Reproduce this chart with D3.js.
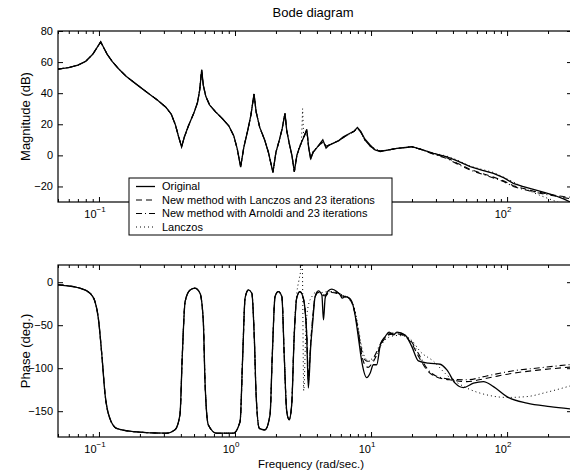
<!DOCTYPE html>
<html>
<head>
<meta charset="utf-8">
<script src="https://cdn.jsdelivr.net/npm/d3@7"></script>
<style>
  body { margin: 0; background: #fff; }
  text { font-family: "Liberation Sans", Arial, Helvetica, sans-serif; fill: #000; }
</style>
</head>
<body>
<div id="chart"></div>
<script>
// ---- data: [frequency (rad/s), value] ----

// magnitude (dB), common low-frequency part of all four curves
const magShared = [
  [0.05,55.5],[0.06,56.5],[0.07,58],[0.08,60.5],[0.09,65],[0.097,69.5],[0.103,73],[0.108,69.5],
  [0.115,65],[0.125,60.5],[0.14,55.5],[0.16,50.5],[0.19,45.5],[0.23,40],[0.27,35.5],[0.31,31],
  [0.34,26.5],[0.365,19.5],[0.385,12],[0.405,5.5],[0.425,12],[0.455,19],[0.5,27.5],[0.53,34],
  [0.55,42],[0.569,55],[0.585,45],[0.61,38],[0.65,32.5],[0.72,28],[0.8,24],[0.9,19],[0.98,12.5],
  [1.04,4],[1.1,-7.5],[1.16,5],[1.24,16],[1.31,26],[1.38,39.5],[1.43,28],[1.52,18],[1.65,10],
  [1.76,2],[1.9,-11],[2.0,2],[2.12,10],[2.22,17],[2.33,27],[2.4,16],[2.5,8],[2.62,0],[2.73,-10.5],[2.85,0]
];
const magOriginalTail = [
  [2.95,4],[3.1,9],[3.25,13],[3.37,16.8],[3.48,5],[3.6,-2.5],[3.75,2],[4.0,5],[4.25,8],[4.42,10],
  [4.67,4.7],[4.9,6.5],[5.28,7.8],[5.8,9.5],[6.26,12],[7.0,14.2],[7.5,15.5],[7.94,18],[8.4,15.5],
  [9.0,10.5],[9.84,6.7],[10.7,3.5],[11.7,2.4],[13.5,3.5],[15.5,4.5],[18,5],[20,5.6],[23,4],
  [28.8,1.3],[36.1,-0.9],[43,-3.5],[53.6,-7.3],[65,-9.5],[79.4,-11.6],[95,-14.5],[111,-18],
  [130,-20],[156,-21.8],[190,-24],[219,-25.5],[260,-28],[300,-30.5]
];
const magNewLanczosTail = [
  [2.95,4],[3.1,9],[3.25,13],[3.37,16.5],[3.48,5],[3.6,-2],[3.75,2],[4.0,5],[4.25,7.5],[4.42,8.5],
  [4.67,6],[4.9,6.5],[5.28,7.8],[5.8,9.5],[6.26,11.5],[7.0,14],[7.5,15.5],[7.94,17.5],[8.4,15],
  [9.0,10],[9.84,6],[10.7,3.5],[11.7,2.8],[13.5,3.5],[15.5,4.5],[18,5.2],[20,5.5],[23,4],
  [28.8,1],[36.1,-1.5],[43,-5],[53.6,-9],[65,-11.5],[79.4,-14],[95,-16.5],[111,-19.5],
  [130,-21.2],[156,-23],[190,-24.5],[219,-25.5],[260,-26.5],[300,-27]
];
const magNewArnoldiTail = [
  [2.95,4],[3.1,9],[3.25,13],[3.37,16.5],[3.48,5],[3.6,-2],[3.75,2],[4.0,5],[4.25,7.5],[4.42,8.5],
  [4.67,6],[4.9,6.5],[5.28,7.8],[5.8,9.5],[6.26,11.5],[7.0,14],[7.5,15.5],[7.94,17.5],[8.4,15],
  [9.0,10],[9.84,6],[10.7,3.5],[11.7,2.8],[13.5,3.5],[15.5,4.5],[18,5.2],[20,5.5],[23,4],
  [28.8,0.8],[36.1,-2],[43,-5.5],[53.6,-9.5],[65,-12],[79.4,-14.5],[95,-17],[111,-20],
  [130,-21.8],[156,-23.5],[190,-25],[219,-26],[260,-27.2],[300,-28]
];
const magLanczosTail = [
  [2.95,5],[3.08,9],[3.14,30],[3.2,11],[3.3,14],[3.37,15],[3.48,5],[3.6,-1],[3.75,2.5],[4.0,5.5],
  [4.25,7],[4.42,8],[4.67,6],[5.28,8],[5.8,9.5],[6.26,11.5],[7.0,14],[7.94,17.5],[8.4,15],
  [9.0,10],[9.84,6],[11.7,2.8],[15.5,4.5],[20,5.5],[28.8,1.5],[36.1,-0.5],[43,-3],[53.6,-7],
  [79.4,-11],[111,-17],[130,-20.5],[156,-24],[190,-27],[219,-29],[260,-31.5],[300,-33]
];

// phase (deg.), common low-frequency part
const phaseShared = [
  [0.05,-3],[0.0726,-7],[0.0859,-12.8],[0.0935,-22.5],[0.099,-42],[0.105,-84.5],[0.111,-131],
  [0.12,-158],[0.135,-170],[0.179,-173.7],[0.315,-175.6],[0.362,-171.7],[0.394,-154],[0.41,-84.5],
  [0.43,-22.5],[0.468,-9],[0.508,-7],[0.553,-12.8],[0.585,-45.8],[0.602,-115.6],[0.637,-166],
  [0.734,-175.6],[0.973,-175.6],[1.09,-162],[1.14,-84.5],[1.186,-18.6],[1.254,-9],[1.33,-12.8],
  [1.387,-65],[1.43,-131],[1.51,-170],[1.66,-171.7],[1.81,-154],[1.88,-84.5],[1.97,-16.7],
  [2.08,-10.9],[2.21,-16.7],[2.3,-84.5],[2.4,-150],[2.5,-160],[2.61,-142.7]
];
const phaseOriginalTail = [
  [2.72,-65],[2.84,-18.6],[3.0,-10.9],[3.18,-18.6],[3.37,-65],[3.46,-123],[3.6,-75],[3.73,-45.8],
  [3.88,-16.7],[4.1,-10],[4.35,-14.8],[4.47,-43.8],[4.6,-18.6],[4.86,-10],[5.15,-8.1],[5.6,-10.9],
  [5.93,-14.8],[6.16,-18.6],[6.44,-16.7],[6.82,-17.9],[7.22,-22.5],[7.63,-38],[8.08,-65],
  [8.55,-92.3],[9.3,-111],[9.84,-105.8],[10.4,-96],[11.0,-96],[11.7,-72.9],[12.7,-63.2],
  [13.6,-58],[14.6,-61.3],[15.5,-58],[17.8,-61.3],[19.95,-74.9],[22.3,-91.5],[26.4,-94.2],
  [32.2,-95.4],[36.1,-102],[41.5,-117.4],[47.8,-122.5],[56.6,-117.4],[67,-115.6],[79.4,-121.4],
  [99.6,-133],[140,-140.7],[207,-144.7],[300,-147.5]
];
const phaseNewLanczosTail = [
  [2.72,-65],[2.84,-18.6],[3.0,-11],[3.18,-19],[3.37,-60],[3.46,-110],[3.6,-70],[3.73,-40],
  [3.88,-17],[4.1,-12],[4.35,-15],[4.6,-16],[4.86,-13],[5.15,-12],[5.6,-13],[6.16,-16],
  [6.82,-19],[7.22,-24],[7.63,-37],[8.08,-60],[8.55,-85],[9.0,-96],[9.5,-99],[10.0,-96],
  [10.6,-90],[11.2,-82],[11.7,-74],[12.7,-65],[13.6,-61],[15.5,-60],[17.8,-63],[20,-72],
  [22.3,-86],[25.7,-102],[30,-110],[40,-114],[50.5,-115.6],[70.8,-111.6],[111,-105.8],
  [175,-102],[300,-98.5]
];
const phaseNewArnoldiTail = [
  [2.72,-65],[2.84,-18.6],[3.0,-11],[3.18,-19],[3.37,-62],[3.46,-115],[3.6,-72],[3.73,-42],
  [3.88,-17],[4.1,-11],[4.35,-14],[4.6,-15],[4.86,-12],[5.15,-11],[5.6,-12],[6.16,-15],
  [6.82,-18],[7.22,-23],[7.63,-36],[8.08,-58],[8.55,-80],[9.0,-90],[9.5,-92],[10.0,-90],
  [10.6,-86],[11.2,-78],[11.7,-72],[12.7,-64],[13.6,-60],[15.5,-59],[17.8,-62],[20,-70],
  [22.3,-83],[25.7,-100],[30,-109],[40,-113],[50.5,-113.5],[70.8,-109],[111,-103],
  [175,-99.5],[300,-95.5]
];
const phaseLanczosTail = [
  [2.72,-60],[2.85,-12],[2.95,2],[3.05,14],[3.12,24],[3.2,-126],[3.32,-55],[3.45,-28],[3.7,-16],
  [3.9,-12],[4.3,-12],[4.8,-11],[5.5,-12],[6.2,-15],[7.0,-20],[7.6,-32],[8.1,-55],[8.6,-78],
  [9.3,-90],[10,-92],[11,-84],[12,-72],[13.5,-64],[15.5,-62],[18,-63],[20,-68],[23,-80.6],
  [28.8,-92],[36,-107.8],[50.5,-123],[70.8,-131],[99.6,-134],[140,-133],[195,-128],[300,-120]
];

const seriesNames = [
  "Original",
  "New method with Lanczos and 23 iterations",
  "New method with Arnoldi and 23 iterations",
  "Lanczos"
];
const magTicks = [-20, 0, 20, 40, 60, 80];
const phaseTicks = [-150, -100, -50, 0];
const freqMajor = [0.1, 1, 10, 100];
const freqMajorExp = ["-1", "0", "1", "2"];

// ---- layout ----
const width = 570, height = 472;
const left = 58, right = 572;
const magTop = 31, magBottom = 202;
const phTop = 265, phBottom = 437;

const dashes = ["none", "6,4", "6,3,1,3", "1,3"];
const widths = [1.3, 1.1, 1.1, 1];

const svg = d3.select("#chart")
  .append("svg")
  .attr("width", width)
  .attr("height", height);

const x = d3.scaleLog().domain([0.05, 300]).range([left, right]);
const yMag = d3.scaleLinear().domain([-30, 80]).range([magBottom, magTop]);
const yPh = d3.scaleLinear().domain([-180, 20]).range([phBottom, phTop]);

const minorTicks = x.ticks().filter(t => freqMajor.indexOf(t) < 0);

function makePanel(id, y, top, bottom, yTicks, series, curve, shownLabels) {
  const g = svg.append("g");

  g.append("clipPath").attr("id", id)
    .append("rect")
    .attr("x", left).attr("y", top)
    .attr("width", right - left).attr("height", bottom - top);

  // curves
  const line = d3.line()
    .x(d => x(d[0]))
    .y(d => y(d[1]))
    .curve(curve);

  const lines = g.append("g").attr("clip-path", `url(#${id})`);
  // approximations first, original last on top
  [3, 2, 1, 0].forEach(i => {
    lines.append("path")
      .datum(series[i])
      .attr("d", line)
      .attr("fill", "none")
      .attr("stroke", "#000")
      .attr("stroke-width", widths[i])
      .attr("stroke-dasharray", dashes[i]);
  });

  // y ticks, inward on both sides
  g.append("g")
    .attr("transform", `translate(${left},0)`)
    .call(d3.axisLeft(y).tickValues(yTicks).tickSize(-5).tickPadding(5))
    .call(a => a.select(".domain").remove())
    .call(a => a.selectAll("text").style("font-size", "11px"));
  g.append("g")
    .attr("transform", `translate(${right},0)`)
    .call(d3.axisRight(y).tickValues(yTicks).tickSize(-5).tickFormat(""))
    .call(a => a.select(".domain").remove());

  // x ticks, inward on top and bottom
  [[bottom, d3.axisBottom], [top, d3.axisTop]].forEach(([ty, ax]) => {
    g.append("g")
      .attr("transform", `translate(0,${ty})`)
      .call(ax(x).tickValues(freqMajor).tickSize(-5).tickFormat(""))
      .call(a => a.select(".domain").remove());
    g.append("g")
      .attr("transform", `translate(0,${ty})`)
      .call(ax(x).tickValues(minorTicks).tickSize(-3).tickFormat(""))
      .call(a => a.select(".domain").remove());
  });

  // 10^n labels (the ones hidden by the legend are not drawn)
  const lab = g.append("g").selectAll("text")
    .data(freqMajor.map((f, i) => [f, freqMajorExp[i]]).filter(d => shownLabels.indexOf(d[0]) >= 0))
    .join("text")
    .attr("x", d => x(d[0]) - 4)
    .attr("y", bottom + 16)
    .attr("text-anchor", "middle")
    .style("font-size", "11px");
  lab.append("tspan").text("10");
  lab.append("tspan")
    .attr("dy", -6)
    .style("font-size", "8px")
    .text(d => d[1].replace("-", "\u2212"));

  // box
  g.append("rect")
    .attr("x", left).attr("y", top)
    .attr("width", right - left).attr("height", bottom - top)
    .attr("fill", "none")
    .attr("stroke", "#000")
    .attr("stroke-width", 1.2);

  return g;
}

makePanel("clipMag", yMag, magTop, magBottom, magTicks, [
  magShared.concat(magOriginalTail),
  magShared.concat(magNewLanczosTail),
  magShared.concat(magNewArnoldiTail),
  magShared.concat(magLanczosTail)
], d3.curveLinear, [0.1, 100]);

makePanel("clipPh", yPh, phTop, phBottom, phaseTicks, [
  phaseShared.concat(phaseOriginalTail),
  phaseShared.concat(phaseNewLanczosTail),
  phaseShared.concat(phaseNewArnoldiTail),
  phaseShared.concat(phaseLanczosTail)
], d3.curveMonotoneX, freqMajor);

// titles and axis labels
svg.append("text")
  .attr("x", (left + right) / 2 - 2).attr("y", 17)
  .attr("text-anchor", "middle")
  .style("font-size", "13px")
  .text("Bode diagram");

svg.append("text")
  .attr("transform", `translate(30,${(magTop + magBottom) / 2}) rotate(-90)`)
  .attr("text-anchor", "middle")
  .style("font-size", "13px")
  .text("Magnitude (dB)");

svg.append("text")
  .attr("transform", `translate(30,${(phTop + phBottom) / 2}) rotate(-90)`)
  .attr("text-anchor", "middle")
  .style("font-size", "13px")
  .text("Phase (deg.)");

svg.append("text")
  .attr("x", (left + right) / 2 - 4).attr("y", 468)
  .attr("text-anchor", "middle")
  .style("font-size", "11.5px")
  .text("Frequency (rad/sec.)");

// legend
const legend = svg.append("g").attr("transform", "translate(129,178)");
legend.append("rect")
  .attr("width", 263).attr("height", 57)
  .attr("fill", "#fff")
  .attr("stroke", "#000")
  .attr("stroke-width", 1);

const rows = legend.selectAll("g.row")
  .data(seriesNames)
  .join("g")
  .attr("class", "row")
  .attr("transform", (d, i) => `translate(0,${8.5 + i * 13.5})`);
rows.append("line")
  .attr("x1", 7).attr("x2", 26)
  .attr("stroke", "#000")
  .attr("stroke-width", (d, i) => widths[i])
  .attr("stroke-dasharray", (d, i) => dashes[i]);
rows.append("text")
  .attr("x", 33)
  .attr("dy", "0.35em")
  .style("font-size", "11px")
  .text(d => d);
</script>
</body>
</html>
